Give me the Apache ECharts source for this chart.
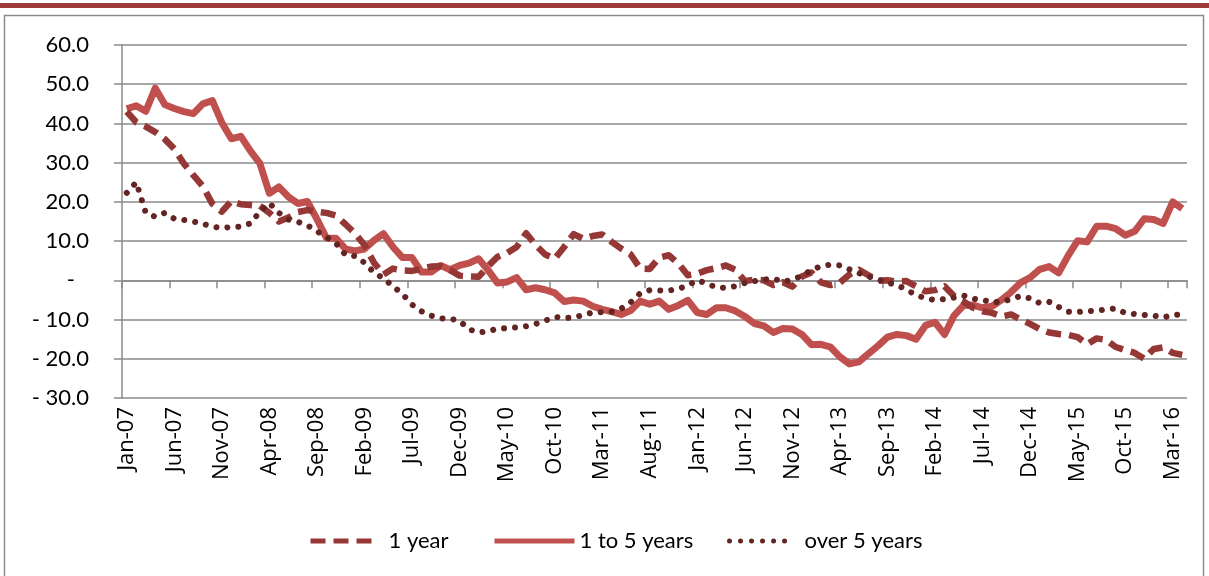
<!DOCTYPE html>
<html>
<head>
<meta charset="utf-8">
<script src="https://cdn.jsdelivr.net/npm/echarts@6/dist/echarts.min.js"></script>
<style>
html,body{margin:0;padding:0;background:#fff;}
#chart{width:1209px;height:576px;}
</style>
</head>
<body>
<div id="chart"></div>
<script>
const categories = ("Jan-07,Feb-07,Mar-07,Apr-07,May-07,Jun-07,Jul-07,Aug-07,Sep-07,Oct-07,Nov-07,Dec-07," +
"Jan-08,Feb-08,Mar-08,Apr-08,May-08,Jun-08,Jul-08,Aug-08,Sep-08,Oct-08,Nov-08,Dec-08," +
"Jan-09,Feb-09,Mar-09,Apr-09,May-09,Jun-09,Jul-09,Aug-09,Sep-09,Oct-09,Nov-09,Dec-09," +
"Jan-10,Feb-10,Mar-10,Apr-10,May-10,Jun-10,Jul-10,Aug-10,Sep-10,Oct-10,Nov-10,Dec-10," +
"Jan-11,Feb-11,Mar-11,Apr-11,May-11,Jun-11,Jul-11,Aug-11,Sep-11,Oct-11,Nov-11,Dec-11," +
"Jan-12,Feb-12,Mar-12,Apr-12,May-12,Jun-12,Jul-12,Aug-12,Sep-12,Oct-12,Nov-12,Dec-12," +
"Jan-13,Feb-13,Mar-13,Apr-13,May-13,Jun-13,Jul-13,Aug-13,Sep-13,Oct-13,Nov-13,Dec-13," +
"Jan-14,Feb-14,Mar-14,Apr-14,May-14,Jun-14,Jul-14,Aug-14,Sep-14,Oct-14,Nov-14,Dec-14," +
"Jan-15,Feb-15,Mar-15,Apr-15,May-15,Jun-15,Jul-15,Aug-15,Sep-15,Oct-15,Nov-15,Dec-15," +
"Jan-16,Feb-16,Mar-16,Apr-16").split(",");

const oneYear = [
 43.0, 40.3, 39.2, 37.8, 36.0, 33.5, 29.8, 26.8, 24.0, 19.5,
 17.5, 20.2, 19.4, 19.2, 19.0, 17.2, 15.0, 16.0, 17.4, 17.9,
 17.5, 17.2, 16.5, 14.3, 12.0, 9.0, 4.5, 1.5, 3.0, 2.5,
 2.4, 2.9, 3.5, 3.6, 2.6, 1.2, 1.0, 0.9, 3.6, 6.0,
 7.0, 8.5, 12.0, 9.0, 6.6, 5.5, 8.5, 11.8, 10.6, 11.3,
 11.7, 9.8, 8.1, 6.6, 3.0, 2.9, 5.8, 6.4, 4.3, 1.3,
 1.7, 2.6, 3.1, 3.8, 2.7, -0.2, 0.2, 0.0, -1.2, -0.5,
 -1.6, 1.0, 2.0, -0.5, -1.2, -0.6, 1.5, 2.7, 1.3, -0.1,
 0.0, -0.3, -0.2, -1.5, -2.8, -2.5, -1.5, -4.0, -5.4, -7.0,
 -7.9, -8.3, -9.2, -8.7, -10.0, -11.1, -12.4, -13.3, -13.7, -13.9,
 -14.5, -16.3, -14.8, -15.2, -17.0, -17.8, -18.5, -20.0, -17.5, -17.1, -18.5, -19.0
];

const oneToFiveYears = [
 43.7, 44.5, 43.1, 49.0, 44.8, 43.8, 43.0, 42.5, 45.0, 45.8,
 40.2, 36.1, 36.7, 33.0, 29.8, 22.2, 23.8, 21.3, 19.6, 20.1,
 15.6, 10.8, 10.7, 8.0, 7.5, 8.0, 10.2, 11.9, 8.5, 5.8,
 5.8, 2.1, 2.1, 3.8, 2.7, 3.8, 4.4, 5.5, 2.6, -0.7,
 -0.4, 0.7, -2.4, -1.9, -2.4, -3.2, -5.4, -5.0, -5.3, -6.6,
 -7.4, -8.0, -8.7, -7.7, -5.3, -6.1, -5.3, -7.4, -6.4, -5.1,
 -8.2, -8.7, -7.0, -7.0, -7.8, -9.2, -11.0, -11.6, -13.3, -12.3,
 -12.4, -13.8, -16.4, -16.3, -17.0, -19.5, -21.3, -20.8, -18.7, -16.7,
 -14.5, -13.8, -14.1, -15.0, -11.5, -10.7, -13.8, -9.0, -6.4, -6.3,
 -7.0, -6.6, -5.0, -3.0, -0.6, 0.7, 2.8, 3.5, 1.9, 6.3,
 10.1, 9.8, 13.8, 13.8, 13.2, 11.5, 12.5, 15.7, 15.5, 14.5, 20.0, 18.3
];

const overFiveYears = [
 22.3, 25.0, 17.2, 16.2, 17.2, 15.7, 15.4, 15.0, 14.4, 13.7,
 13.3, 13.6, 13.7, 14.5, 17.5, 19.7, 17.2, 15.5, 14.9, 14.0,
 12.5, 11.0, 9.5, 6.5, 6.2, 4.5, 2.0, 0.5, -1.5, -3.5,
 -6.2, -7.9, -9.0, -9.7, -9.8, -10.3, -12.5, -13.3, -13.0, -12.3,
 -12.2, -12.0, -11.7, -11.1, -10.3, -9.3, -9.6, -9.5, -8.8, -8.2,
 -8.1, -8.0, -7.2, -5.6, -3.3, -2.5, -2.6, -2.6, -2.2, -1.3,
 0.0, -0.8, -1.8, -1.9, -1.5, -0.7, -0.2, 0.2, 0.4, -0.3,
 0.1, 1.2, 2.6, 3.6, 4.0, 3.8, 2.8, 1.8, 1.0, 0.2,
 -0.6, -1.2, -2.4, -3.7, -4.6, -5.0, -4.8, -4.4, -3.9, -4.7,
 -5.0, -5.6, -5.5, -4.8, -4.0, -4.6, -5.8, -5.5, -6.8, -8.0,
 -8.1, -7.8, -7.8, -7.4, -7.2, -8.3, -8.6, -8.8, -9.0, -9.5, -8.8, -8.7
];

const seriesNames = ["1 year", "1 to 5 years", "over 5 years"];
const yMin = -30, yMax = 60, yStep = 10;

const chart = echarts.init(document.getElementById('chart'), null, {renderer: 'canvas'});
const gridColor = '#8a8a8a';
const font = 'Lato, "Liberation Sans", sans-serif';
const colors = ['#953735', '#C0504D', '#632523'];
const dashes = [[15, 8], 'solid', [0.01, 11]];
const caps = ['butt', 'butt', 'round'];
const widths = [6.5, 7, 6];

function legendFor(i, left, width, gap) {
  return {
    data: [seriesNames[i]],
    left: left, top: 525,
    itemWidth: width, itemHeight: 14,
    itemStyle: {opacity: 0},
    lineStyle: {width: 5, color: colors[i], type: dashes[i], cap: caps[i]},
    textStyle: {fontFamily: font, fontSize: 22, color: '#000', padding: [0, 0, 0, gap]}
  };
}

chart.setOption({
  animation: false,
  backgroundColor: '#ffffff',
  graphic: [
    {type: 'rect', shape: {x: 0, y: 3, width: 1209, height: 5}, style: {fill: '#9b3a36'}, silent: true},
    {type: 'rect', shape: {x: 4.5, y: 15.5, width: 1199, height: 600}, style: {fill: 'none', stroke: '#8c8c8c', lineWidth: 1.5}, silent: true}
  ],
  grid: {left: 122, right: 22, top: 45, bottom: 178, containLabel: false},
  legend: [
    legendFor(0, 303, 63, 10),
    legendFor(1, 487, 80, 0),
    legendFor(2, 722, 65, 5)
  ],
  xAxis: [
    {
      type: 'category', data: categories, boundaryGap: true,
      axisLine: {onZero: true, lineStyle: {color: gridColor, width: 1.5}},
      axisTick: {show: true, interval: 4, length: 8, lineStyle: {color: gridColor, width: 1.5}},
      axisLabel: {show: false}
    },
    {
      type: 'category', data: categories, boundaryGap: true, position: 'bottom',
      axisLine: {show: false, onZero: false},
      axisTick: {show: false},
      axisLabel: {show: true, interval: 4, rotate: 90, margin: 9, fontFamily: '"Open Sans", "Noto Sans", sans-serif', fontSize: 22, color: '#000'}
    }
  ],
  yAxis: {
    type: 'value', min: yMin, max: yMax, interval: yStep,
    axisLine: {show: true, lineStyle: {color: gridColor, width: 1.5}},
    axisTick: {show: true, length: 8, lineStyle: {color: gridColor, width: 1.5}},
    splitLine: {show: true, lineStyle: {color: gridColor, width: 1.5}},
    axisLabel: {
      margin: 33, fontFamily: font, fontSize: 22, color: '#000',
      formatter: function (v) {
        if (v === 0) return '{z|-}';
        if (v < 0) return '- ' + Math.abs(v).toFixed(1);
        return v.toFixed(1);
      },
      rich: {z: {fontFamily: font, fontSize: 22, color: '#000', padding: [0, 14, 0, 0]}}
    }
  },
  series: [
    {
      name: seriesNames[0], type: 'line', data: oneYear, xAxisIndex: 0, showSymbol: false, symbol: 'none',
      lineStyle: {color: colors[0], width: widths[0], type: dashes[0], cap: caps[0], join: 'round'},
      itemStyle: {color: colors[0]}, z: 3
    },
    {
      name: seriesNames[1], type: 'line', data: oneToFiveYears, xAxisIndex: 0, showSymbol: false, symbol: 'none',
      lineStyle: {color: colors[1], width: widths[1], type: dashes[1], join: 'round'},
      itemStyle: {color: colors[1]}, z: 2
    },
    {
      name: seriesNames[2], type: 'line', data: overFiveYears, xAxisIndex: 0, showSymbol: false, symbol: 'none',
      lineStyle: {color: colors[2], width: widths[2], type: dashes[2], cap: caps[2], join: 'round'},
      itemStyle: {color: colors[2]}, z: 4
    }
  ]
});
</script>
</body>
</html>
